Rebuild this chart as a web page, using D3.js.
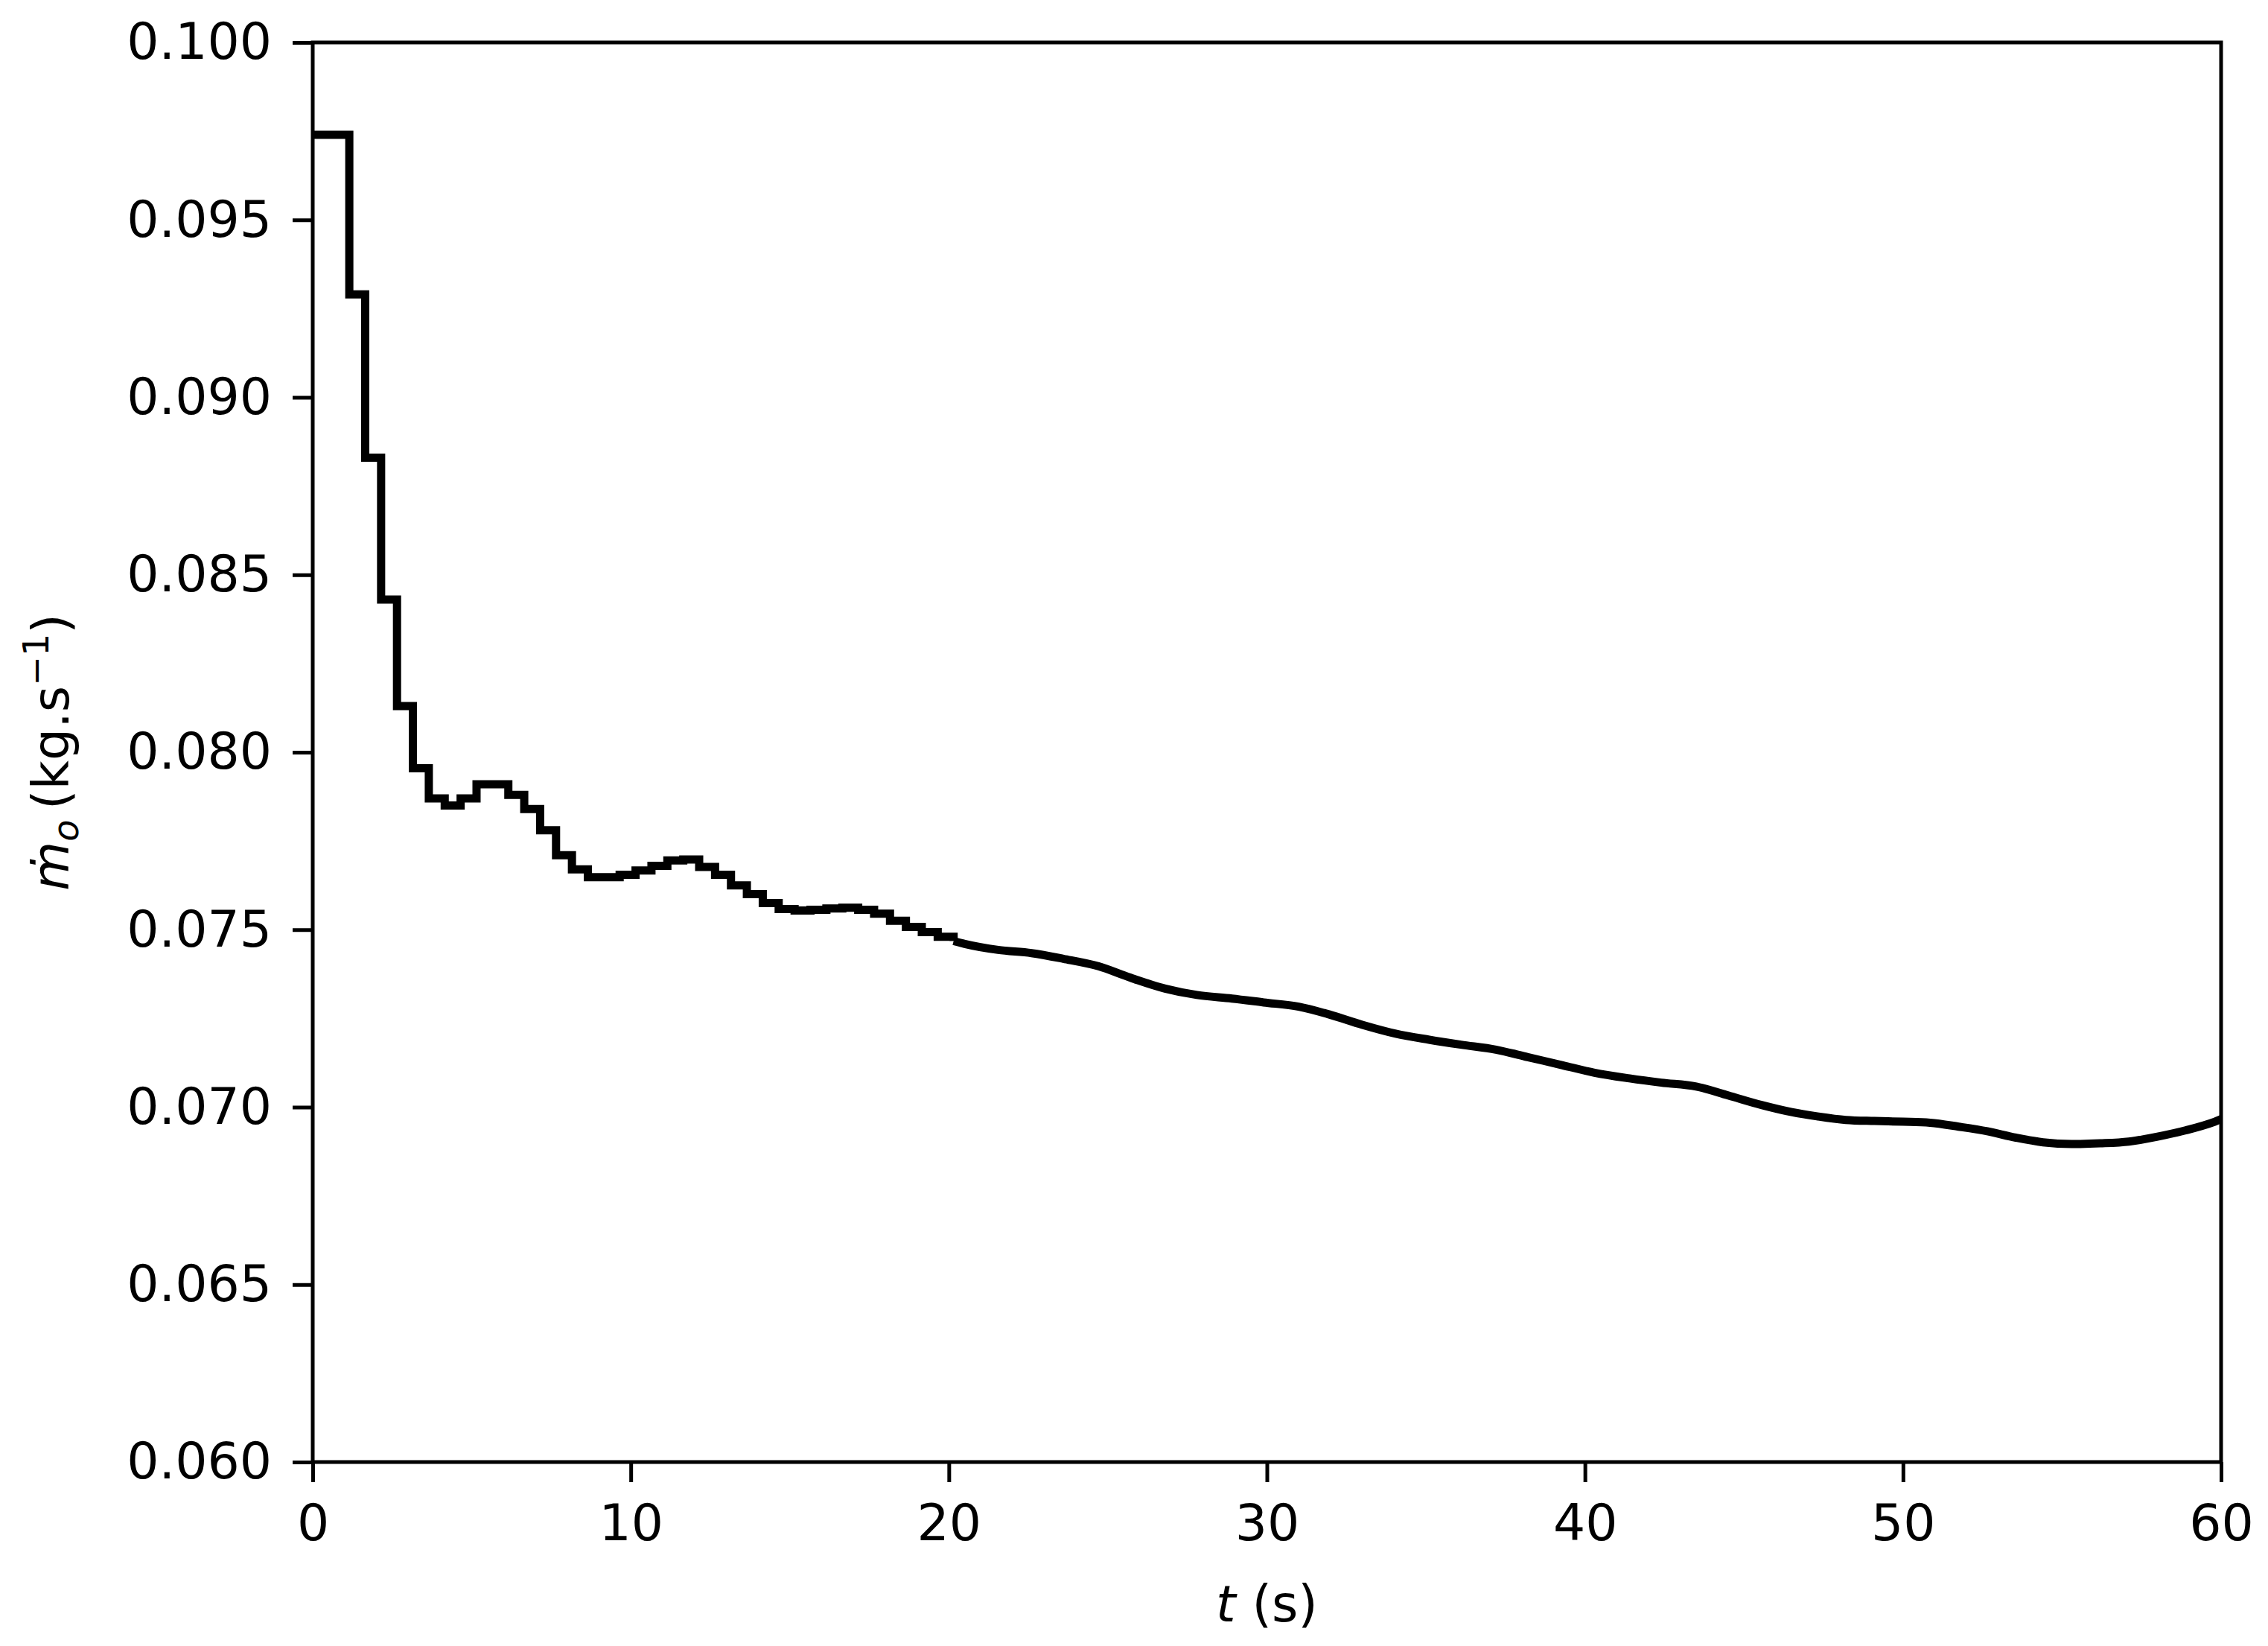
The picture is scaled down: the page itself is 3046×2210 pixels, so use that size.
<!DOCTYPE html>
<html>
<head>
<meta charset="utf-8">
<script src="https://cdn.jsdelivr.net/npm/d3@7"></script>
<style>
  body { margin: 0; background: #fff; }
  svg { display: block; }
</style>
</head>
<body>
<svg id="chart"></svg>
<script>
// stepped part of the series (0.5 s bins), drawn with curveStepAfter
const stepTimes = [0, 1.15, 1.65, 2.15, 2.65, 3.15, 3.65, 4.15, 4.65, 5.15, 5.65, 6.15, 6.65,
  7.15, 7.65, 8.15, 8.65, 9.15, 9.65, 10.15, 10.65, 11.15, 11.65, 12.15, 12.65, 13.15, 13.65,
  14.15, 14.65, 15.15, 15.65, 16.15, 16.65, 17.15, 17.65, 18.15, 18.65, 19.15, 19.65, 20.15];
const stepFlow = [0.0974, 0.0929, 0.0883, 0.0843, 0.0813, 0.07955, 0.0787, 0.0785, 0.0787,
  0.0791, 0.0791, 0.0788, 0.0784, 0.0778, 0.0771, 0.0767, 0.07648, 0.07648, 0.07655, 0.07667,
  0.0768, 0.07695, 0.07698, 0.07677, 0.07655, 0.07625, 0.076, 0.07575, 0.07558, 0.07554,
  0.07556, 0.0756, 0.07562, 0.07556, 0.07545, 0.07525, 0.07508, 0.07493, 0.0748, 0.07468];

// later part, where the steps are tiny and the trace reads as a smooth line
const tailTimes = [20.15, 20.5, 21.55, 22.6, 23.6, 24.7, 25.7, 26.8, 27.8, 28.9, 29.9, 31.0,
  32.0, 33.0, 34.05, 35.1, 36.1, 37.2, 38.2, 39.3, 40.3, 41.4, 42.4, 43.5, 44.5, 45.55, 46.5,
  47.3, 48.2, 49.1, 50.0, 50.85, 51.75, 52.65, 53.55, 54.4, 55.3, 56.2, 57.1, 58.0, 58.9,
  59.8, 60];
const tailFlow = [0.07468, 0.0746, 0.07443, 0.07434, 0.07418, 0.07397, 0.07365, 0.07334,
  0.07316, 0.07306, 0.07295, 0.07283, 0.0726, 0.07232, 0.07207, 0.0719, 0.07176, 0.07162,
  0.07141, 0.07118, 0.07097, 0.07081, 0.07069, 0.07058, 0.07033, 0.07006, 0.06986, 0.06974,
  0.06964, 0.06961, 0.06959, 0.06956, 0.06945, 0.06932, 0.06914, 0.06901, 0.06896, 0.06898,
  0.06903, 0.06917, 0.06935, 0.06959, 0.06966];

const xTicks = [0, 10, 20, 30, 40, 50, 60];
const yTicks = [0.060, 0.065, 0.070, 0.075, 0.080, 0.085, 0.090, 0.095, 0.100];

const width = 3046;
const height = 2210;
const margin = { left: 420, right: 63, top: 57, bottom: 247 };
const fontSize = 68;
const font = 'DejaVu Sans';

const svg = d3.select('#chart').attr('width', width).attr('height', height);
svg.append('rect').attr('width', width).attr('height', height).attr('fill', '#fff');

const x = d3.scaleLinear().domain([0, 60]).range([margin.left, width - margin.right]);
const y = d3.scaleLinear().domain([0.06, 0.1]).range([height - margin.bottom, margin.top]);

svg.append('defs')
  .append('clipPath')
  .attr('id', 'plot-clip')
  .append('rect')
  .attr('x', x(0))
  .attr('y', y(0.1))
  .attr('width', x(60) - x(0))
  .attr('height', y(0.06) - y(0.1));

const stepData = stepTimes.map((t, i) => ({ t, v: stepFlow[i] }));
const tailData = tailTimes.map((t, i) => ({ t, v: tailFlow[i] }));

const g_line = svg.append('g').attr('clip-path', 'url(#plot-clip)');

g_line.append('path')
  .datum(stepData)
  .attr('fill', 'none')
  .attr('stroke', '#000')
  .attr('stroke-width', 11)
  .attr('stroke-linejoin', 'miter')
  .attr('d', d3.line().x(d => x(d.t)).y(d => y(d.v)).curve(d3.curveStepAfter));

g_line.append('path')
  .datum(tailData)
  .attr('fill', 'none')
  .attr('stroke', '#000')
  .attr('stroke-width', 11)
  .attr('stroke-linejoin', 'round')
  .attr('d', d3.line().x(d => x(d.t)).y(d => y(d.v)).curve(d3.curveMonotoneX));

// axes: ticks and labels only, the frame is drawn as a rect
const xAxis = svg.append('g')
  .attr('transform', `translate(0,${y(0.06)})`)
  .call(d3.axisBottom(x).tickValues(xTicks).tickSize(27).tickSizeOuter(0).tickPadding(30)
    .tickFormat(d3.format('d')));

const yAxis = svg.append('g')
  .attr('transform', `translate(${x(0)},0)`)
  .call(d3.axisLeft(y).tickValues(yTicks).tickSize(27).tickSizeOuter(0).tickPadding(28)
    .tickFormat(d3.format('.3f')));

[xAxis, yAxis].forEach(ax => {
  ax.select('.domain').remove();
  ax.selectAll('.tick line').attr('stroke', '#000').attr('stroke-width', 5);
  ax.selectAll('.tick text')
    .attr('fill', '#000')
    .attr('font-family', font)
    .attr('font-size', fontSize);
});

svg.append('rect')
  .attr('x', x(0))
  .attr('y', y(0.1))
  .attr('width', x(60) - x(0))
  .attr('height', y(0.06) - y(0.1))
  .attr('fill', 'none')
  .attr('stroke', '#000')
  .attr('stroke-width', 5);

// x label: t (s)
const xLabel = svg.append('text')
  .attr('x', (x(0) + x(60)) / 2)
  .attr('y', 2177)
  .attr('text-anchor', 'middle')
  .attr('font-family', font)
  .attr('font-size', fontSize)
  .attr('fill', '#000');
xLabel.append('tspan').attr('font-style', 'italic').text('t');
xLabel.append('tspan').text(' (s)');

// y label: m-dot with subscript o (kg.s^-1)
const yLabel = svg.append('text')
  .attr('transform', `translate(92,${(y(0.06) + y(0.1)) / 2}) rotate(-90)`)
  .attr('text-anchor', 'middle')
  .attr('font-family', font)
  .attr('font-size', fontSize)
  .attr('fill', '#000');
yLabel.append('tspan').attr('font-style', 'italic').text('\u1E41');
yLabel.append('tspan').attr('font-style', 'italic').attr('font-size', fontSize * 0.7)
  .attr('dy', 13).text('o');
yLabel.append('tspan').attr('dy', -13).text('\u2009(kg.s');
yLabel.append('tspan').attr('font-size', fontSize * 0.7).attr('dy', -27).text('\u22121');
yLabel.append('tspan').attr('dy', 27).text(')');
</script>
</body>
</html>
